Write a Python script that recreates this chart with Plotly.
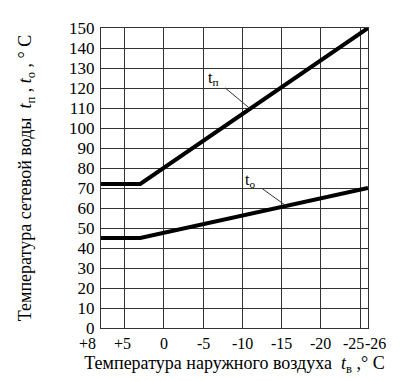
import plotly.graph_objects as go

# Data
x_ticks = [8, 5, 0, -5, -10, -15, -20, -25, -26]
x_tick_labels = ["+8", "+5", "0", "-5", "-10", "-15", "-20", "-25", "-26"]
y_ticks = list(range(0, 151, 10))

t_out = [8, 3, -26]
t_supply = [72, 72, 150]   # tп
t_return = [45, 45, 70]    # tо

# label nudges (style only) so the crowded labels do not collide
x_label_shift = [-14, -2, 0, 0, 0, 0, 0, -7, 7]

font_serif = "Times New Roman, Liberation Serif, DejaVu Serif, serif"

fig = go.Figure()
fig.add_trace(go.Scatter(x=t_out, y=t_supply, mode="lines",
                         line=dict(color="black", width=4), showlegend=False))
fig.add_trace(go.Scatter(x=t_out, y=t_return, mode="lines",
                         line=dict(color="black", width=4), showlegend=False))

fig.add_annotation(x=-11, y=109.6, ax=-6.3, ay=125, axref="x", ayref="y",
                   xref="x", yref="y", text="t<sub>п</sub>", showarrow=True,
                   arrowhead=0, arrowwidth=1, arrowcolor="#333", standoff=0,
                   startstandoff=7,
                   font=dict(family=font_serif, size=16, color="black"))
fig.add_annotation(x=-15.6, y=61, ax=-11, ay=74, axref="x", ayref="y",
                   xref="x", yref="y", text="t<sub>о</sub>", showarrow=True,
                   arrowhead=0, arrowwidth=1, arrowcolor="#333", standoff=0,
                   startstandoff=7,
                   font=dict(family=font_serif, size=16, color="black"))

for xv, lbl, sh in zip(x_ticks, x_tick_labels, x_label_shift):
    fig.add_annotation(x=xv, y=0, xref="x", yref="paper", text=lbl,
                       showarrow=False, yanchor="top", xanchor="center",
                       xshift=sh, yshift=-5,
                       font=dict(family=font_serif, size=16, color="black"))

fig.update_layout(
    width=412, height=381,
    margin=dict(l=93, r=52, t=20, b=61),
    paper_bgcolor="white", plot_bgcolor="white",
    font=dict(family=font_serif, size=17, color="black"),
    xaxis=dict(range=[8, -26], tickvals=x_ticks, showticklabels=False,
               showgrid=True, gridcolor="#333", gridwidth=1,
               showline=True, linecolor="#333", linewidth=1, mirror=True,
               zeroline=False, ticks="",
               title=dict(text="Температура наружного воздуха  <i>t</i><sub>в</sub> ,° C",
                          font=dict(family=font_serif, size=18), standoff=28)),
    yaxis=dict(range=[0, 150], tickvals=y_ticks,
               tickfont=dict(family=font_serif, size=17),
               showgrid=True, gridcolor="#333", gridwidth=1,
               showline=True, linecolor="#333", linewidth=1, mirror=True,
               zeroline=False, ticks="", ticklabelstandoff=2,
               title=dict(text="Температура сетевой воды  <i>t</i><sub>п</sub> , <i>t</i><sub>о</sub> , ° C",
                          font=dict(family=font_serif, size=18), standoff=32)),
)

fig.write_html("out.html")
